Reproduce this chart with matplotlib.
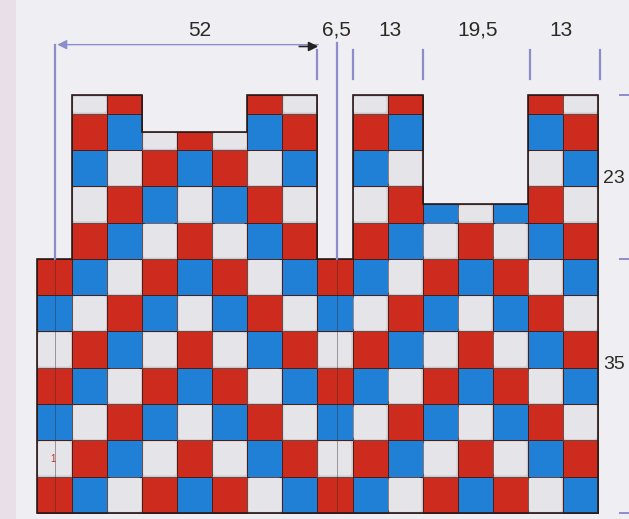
import matplotlib
matplotlib.use("Agg")
import matplotlib.pyplot as plt
from matplotlib.patches import Rectangle, FancyBboxPatch, Polygon

plt.rcParams["font.family"] = ["Liberation Sans", "DejaVu Sans"]

# colour of every cell, row 0 = bottom row, read left to right (16 columns)
rows = [
    "RBWRBRWBRBWRBRWB",
    "WRBWRWBRWRBWRWBR",
    "BWRBWBRWBWRBWBRW",
    "RBWRBRWBRBWRBRWB",
    "WRBWRWBRWRBWRWBR",
    "BWRBWBRWBWRBWBRW",
    "RBWRBRWBRBWRBRWB",
    "WRBWRWBRWRBWRWBR",
    "BWRBWBRWBWRBWBRW",
    "RBWRBRWBRBWRBRWB",
    "WRBWRWBRWRBWRWBR",
    "BWRBWBRWBWRBWBRW",
]
# height of each column in rows
col_heights = [7, 11.5, 11.5, 10.5, 10.5, 10.5, 11.5, 11.5, 7,
               11.5, 11.5, 8.5, 8.5, 8.5, 11.5, 11.5]

top_labels = ["52", "6,5", "13", "19,5", "13"]
top_label_x = [4.65, 8.55, 10.07, 12.58, 14.95]
side_labels = ["23", "35"]
side_label_y = [9.2, 4.1]
tick_x = [8.0, 9.0, 11.0, 14.05, 16.05]

colors = {"R": "#cc2b1d", "B": "#1f80d6", "W": "#e4e4e9"}
dim_col = "#8c8ecc"
txt_col = "#2b2a24"

fig = plt.figure(figsize=(6.29, 5.19), dpi=100)
fig.patch.set_facecolor("#efeef2")
ax = fig.add_axes([0, 0, 1, 1])
ax.set_xlim(-1.055, 16.885)
ax.set_ylim(-0.165, 14.13)
ax.axis("off")

# slightly pink left edge of the page
ax.add_patch(Rectangle((-1.055, -0.165), 0.45, 14.3, facecolor="#e8dfe8",
                       edgecolor="none", zorder=0))

ncols = len(col_heights)
for c in range(ncols):
    h = col_heights[c]
    r = 0
    while r < h:
        ch = min(1, h - r)
        k = rows[r][c]
        if k == "W":
            ax.add_patch(Rectangle((c, r), 1, ch, facecolor="#cfc6c8",
                                   edgecolor="#5a3a36", linewidth=0.5,
                                   zorder=1))
            ax.add_patch(FancyBboxPatch((c + 0.03, r + 0.03), 0.94, ch - 0.06,
                                        boxstyle="round,pad=0,rounding_size=0.07",
                                        facecolor=colors[k], edgecolor="none",
                                        zorder=2))
        else:
            ax.add_patch(Rectangle((c, r), 1, ch, facecolor=colors[k],
                                   edgecolor="#4a1c18", linewidth=0.7,
                                   zorder=1))
        r += 1

# outline of the whole shape
pts = [(0, 0)]
for c, h in enumerate(col_heights):
    pts += [(c, h), (c + 1, h)]
pts.append((ncols, 0))
ax.add_patch(Polygon(pts, closed=True, fill=False, edgecolor="#2a1a18",
                     linewidth=1.2, zorder=3))

# dimension lines
ax.plot([0.5, 0.5], [12.9, 7.0], color=dim_col, lw=1.6, zorder=4)
ax.plot([0.5, 0.5], [7.0, 0.0], color="#3a2a2a", lw=0.6, alpha=0.5, zorder=4)
ax.annotate("", xy=(0.5, 12.9), xytext=(8.1, 12.9),
            arrowprops=dict(arrowstyle="-|>", color=dim_col, lw=1.0,
                            mutation_scale=14), zorder=4)
ax.annotate("", xy=(8.1, 12.85), xytext=(7.4, 12.85),
            arrowprops=dict(arrowstyle="-|>", color="#222222", lw=1.2,
                            mutation_scale=14), zorder=5)
ax.plot([8.55, 8.55], [12.95, 7.0], color=dim_col, lw=1.6, zorder=4)
ax.plot([8.55, 8.55], [7.0, 0.0], color="#3a2a2a", lw=0.6, alpha=0.5, zorder=4)
for x in tick_x:
    ax.plot([x, x], [12.75, 11.95], color=dim_col, lw=1.6, zorder=4)

for s, x in zip(top_labels, top_label_x):
    ax.text(x, 13.3, s, ha="center", va="center", fontsize=15,
            color=txt_col, zorder=5)
for s, y in zip(side_labels, side_label_y):
    ax.text(16.15, y, s, ha="left", va="center", fontsize=14,
            color=txt_col, zorder=5)
for y in [11.5, 7.0, 0.0]:
    ax.plot([16.62, 16.9], [y, y], color=dim_col, lw=1.4, zorder=4)

ax.text(0.45, 1.5, "1", ha="center", va="center", fontsize=7,
        color="#c0302a", zorder=5)

fig.savefig("out.png", dpi=100, facecolor=fig.get_facecolor())
